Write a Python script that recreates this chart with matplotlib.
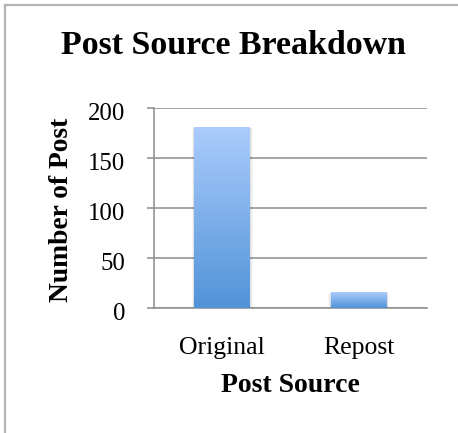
import numpy as np
import matplotlib
matplotlib.use("Agg")
import matplotlib.pyplot as plt
import matplotlib.transforms as mtransforms
from matplotlib.colors import LinearSegmentedColormap
from matplotlib.lines import Line2D

# Chart data
categories = ["Original", "Repost"]
post_counts = [180, 15]
y_ticks = [0, 50, 100, 150, 200]

title = "Post Source Breakdown"
x_label = "Post Source"
y_label = "Number of Post"

plt.rcParams["font.family"] = ["Liberation Serif", "DejaVu Serif"]

W, H = 458, 433
fig = plt.figure(figsize=(W / 100, H / 100), dpi=100)
fig.patch.set_facecolor("white")

# Chart frame: only the top and left edges are visible
fig.add_artist(Line2D([5 / W, 1.0], [1 - 5 / H, 1 - 5 / H], transform=fig.transFigure,
                      color="#b5b5b5", lw=1.6))
fig.add_artist(Line2D([5 / W, 5 / W], [0.0, 1 - 5 / H], transform=fig.transFigure,
                      color="#b5b5b5", lw=1.6))

left, right, top, bottom = 154, 427, 108, 308.3
ax = fig.add_axes([left / W, 1 - bottom / H, (right - left) / W, (bottom - top) / H])
ax.set_facecolor("white")

x = np.arange(len(categories))
bar_w = 0.41
grad = LinearSegmentedColormap.from_list("bar_grad", ["#5193d8", "#abccfc"])

bars = ax.bar(x, post_counts, width=bar_w, color="none", zorder=3)
for b in bars:
    x0, w, h = b.get_x(), b.get_width(), b.get_height()
    # soft drop shadow
    for k, a in enumerate([0.05, 0.04, 0.03]):
        d = (k + 1) * 0.006
        ax.add_patch(plt.Rectangle((x0 - d, -1.2 * (k + 1)), w + 2 * d, h + 1.2 * (k + 1),
                                   color="black", alpha=a, lw=0, zorder=2))
    img = np.linspace(0, 1, 256).reshape(-1, 1)
    ax.imshow(img, cmap=grad, origin="lower", aspect="auto",
              extent=(x0, x0 + w, 0, h), zorder=3, interpolation="bilinear")

ax.set_xlim(-0.5, len(categories) - 0.5)
ax.set_ylim(0, 200)

# y ticks: marks and gridlines from the axis, labels placed on the digit baseline
ax.set_yticks(y_ticks)
ax.set_yticklabels([])
ax.grid(axis="y", color="#8c8c8c", lw=1.1, zorder=1)
ax.tick_params(axis="y", length=5.3, width=1.1, color="#8c8c8c")
label_shift = mtransforms.ScaledTranslation(-28.5 / 100, -11.5 / 100, fig.dpi_scale_trans)
ytrans = ax.get_yaxis_transform() + label_shift
for v in y_ticks:
    ax.text(0, v, str(v), transform=ytrans, ha="right", va="baseline",
            fontsize=17.8, clip_on=False)

ax.set_xticks(x)
ax.set_xticklabels(categories, fontsize=18.5)
ax.tick_params(axis="x", length=0, pad=33)
for lab in ax.get_xticklabels():
    lab.set_verticalalignment("baseline")

for s in ["top", "right"]:
    ax.spines[s].set_visible(False)
ax.spines["left"].set_color("#8c8c8c")
ax.spines["left"].set_linewidth(1.1)
ax.spines["bottom"].set_color("#8c8c8c")
ax.spines["bottom"].set_linewidth(1.1)
ax.set_axisbelow(True)

fig.text(233.5 / W, 1 - 54.3 / H, title, ha="center", va="baseline",
         fontsize=24.4, fontweight="bold")
fig.text(290.5 / W, 1 - 392 / H, x_label, ha="center", va="baseline",
         fontsize=20, fontweight="bold")
fig.text(62 / W, 1 - 210 / H, y_label, ha="center", va="center", rotation=90,
         fontsize=19.8, fontweight="bold")

fig.savefig("out.png", dpi=100)
